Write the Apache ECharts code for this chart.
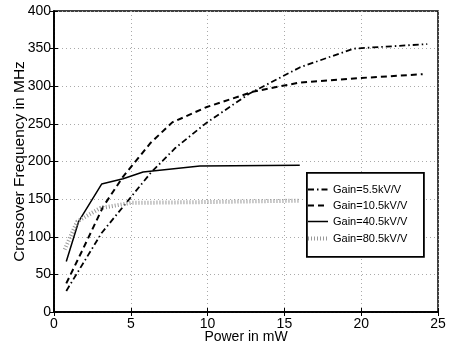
<!DOCTYPE html>
<html><head><meta charset="utf-8">
<script src="https://cdn.jsdelivr.net/npm/echarts@6/dist/echarts.min.js"></script>
<style>html,body{margin:0;padding:0;background:#fff}#c{width:450px;height:349px}</style>
</head><body><div id="c"></div>
<script>
const seriesNames = ['Gain=5.5kV/V', 'Gain=10.5kV/V', 'Gain=40.5kV/V', 'Gain=80.5kV/V'];
const gain5_5 = [[0.8,28],[3.1,105],[4.7,145],[6.3,185],[7.9,218],[9.9,251],[12.7,290],[16,325],[19.5,350],[24.3,356]];
const gain10_5 = [[0.8,38],[1.8,80],[3.2,140],[4.5,180],[6.3,225],[7.7,252],[9.9,272],[13,293],[16,305],[20,311],[24,316]];
const gain40_5 = [[0.8,67],[1.6,120],[3.1,170],[4.5,177],[5.8,186],[9.5,194],[16,195]];
const gain80_5 = [[0.7,83],[1.5,120],[3,138],[5,145],[9.5,146],[16,148]];
const xTicks = [0,5,10,15,20,25];
const yTicks = [0,50,100,150,200,250,300,350,400];

const font = 'Liberation Sans, Arial, sans-serif';
const styles = [
  {color:'#000', width:1.8, type:[6,3,1.5,3]},
  {color:'#000', width:2, type:[6,4]},
  {color:'#000', width:1.5, type:'solid'},
  {color:'#999', width:4, type:[1,2]}
];
const datasets = [gain5_5, gain10_5, gain40_5, gain80_5];

const chart = echarts.init(document.getElementById('c'), null, {renderer:'canvas'});
const gridLine = {show:true, lineStyle:{color:'#aaa', type:[1,3], width:1}};
const baseX = {type:'value', min:xTicks[0], max:xTicks[xTicks.length-1], interval:5};
const baseY = {type:'value', min:yTicks[0], max:yTicks[yTicks.length-1], interval:50};

// legend drawn as graphic (box, line samples, real text)
const lg = {x:306, y:172, w:117, h:84, sx1:308, sx2:328, tx:333, rows:[189.5,205.5,221.5,238.5]};
const legendGraphic = [{type:'rect', left:lg.x, top:lg.y, z:100,
  shape:{width:lg.w, height:lg.h}, style:{fill:'#fff', stroke:'#000', lineWidth:1.8}}];
seriesNames.forEach((n,i)=>{
  const s = styles[i];
  legendGraphic.push({type:'line', z:101, shape:{x1:lg.sx1, y1:lg.rows[i], x2:lg.sx2, y2:lg.rows[i]},
    style:{stroke:s.color, lineWidth:s.width, lineDash: Array.isArray(s.type) ? s.type : null}});
  legendGraphic.push({type:'text', z:101, x:lg.tx, y:lg.rows[i],
    style:{text:n, fill:'#000', font:'11px ' + font, textVerticalAlign:'middle', verticalAlign:'middle'}});
});

chart.setOption({
  animation:false,
  backgroundColor:'#fff',
  grid:{left:54, right:12, top:11, bottom:37, containLabel:false, outerBoundsMode:'none',
        show:true, borderColor:'#000', borderWidth:1.5, backgroundColor:'transparent'},
  graphic:legendGraphic,
  xAxis:[
    Object.assign({}, baseX, {
      name:'Power in mW', nameLocation:'middle', nameGap:18, nameMoveOverlap:false,
      nameTextStyle:{fontFamily:font, fontSize:14, color:'#000'},
      axisLine:{show:true, lineStyle:{color:'#000', width:1.5}},
      axisTick:{show:true, inside:true, length:4, lineStyle:{color:'#000'}},
      axisLabel:{fontFamily:font, fontSize:14, color:'#000', margin:5},
      splitLine:gridLine
    }),
    Object.assign({}, baseX, {
      position:'top', axisLine:{show:true, lineStyle:{color:'#000', width:1.5}},
      axisTick:{show:true, inside:true, length:4, lineStyle:{color:'#000'}},
      axisLabel:{show:false}, splitLine:{show:false}
    })
  ],
  yAxis:[
    Object.assign({}, baseY, {
      name:'Crossover Frequency in MHz', nameLocation:'middle', nameGap:26, nameMoveOverlap:false,
      nameTextStyle:{fontFamily:font, fontSize:15.5, color:'#000'},
      axisLine:{show:true, lineStyle:{color:'#000', width:1.5}},
      axisTick:{show:true, inside:true, length:4, lineStyle:{color:'#000'}},
      axisLabel:{fontFamily:font, fontSize:14, color:'#000', margin:3},
      splitLine:gridLine
    }),
    Object.assign({}, baseY, {
      position:'right', axisLine:{show:true, lineStyle:{color:'#000', width:1.5}},
      axisTick:{show:true, inside:true, length:4, lineStyle:{color:'#000'}},
      axisLabel:{show:false}, splitLine:{show:false}
    })
  ],
  series: datasets.map((d,i)=>({
    name:seriesNames[i], type:'line', data:d, symbol:'none', color:styles[i].color,
    lineStyle:{color:styles[i].color, width:styles[i].width, type:styles[i].type}
  }))
});
</script></body></html>
